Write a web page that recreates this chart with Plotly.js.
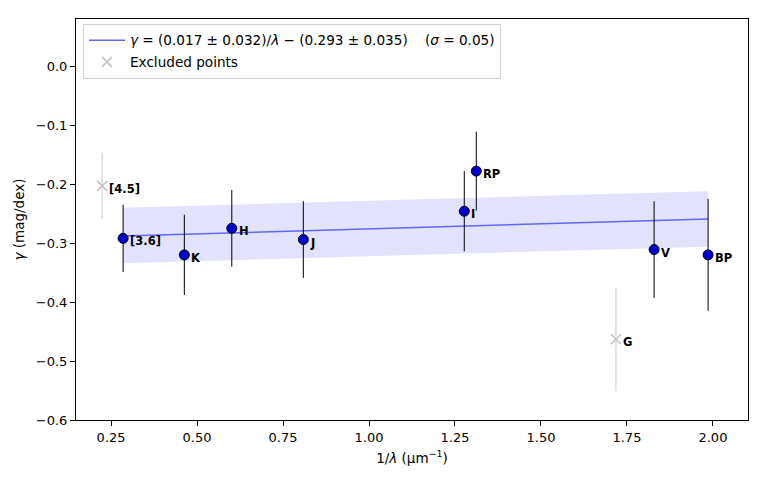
<!DOCTYPE html>
<html>
<head>
<meta charset="utf-8">
<script src="https://cdn.plot.ly/plotly-3.0.1.min.js"></script>
<style>
  html, body { margin: 0; padding: 0; background: #fff; }
  #chart { width: 763px; height: 477px; }
</style>
</head>
<body>
<div id="chart"></div>
<script>
// fitted bands (1/lambda in um^-1, gamma in mag/dex)
var bands = ['[3.6]', 'K', 'H', 'J', 'I', 'RP', 'V', 'BP'];
var invLam = [0.285, 0.463, 0.601, 0.809, 1.277, 1.312, 1.829, 1.986];
var gamma = [-0.292, -0.320, -0.275, -0.294, -0.246, -0.178, -0.311, -0.320];
var gammaErr = [0.057, 0.068, 0.065, 0.065, 0.068, 0.067, 0.082, 0.095];

// points left out of the fit
var exclBands = ['[4.5]', 'G'];
var exclInvLam = [0.224, 1.718];
var exclGamma = [-0.203, -0.463];
var exclErr = [0.056, 0.088];

// fit line and its uncertainty band
var fitX = [0.285, 1.986];
var fitY = [-0.288, -0.259];
var bandUpper = [-0.240, -0.212];
var bandLower = [-0.334, -0.306];

var font = 'DejaVu Sans, sans-serif';

var band = {
  x: fitX.concat(fitX.slice().reverse()),
  y: bandUpper.concat(bandLower.slice().reverse()),
  fill: 'toself',
  fillcolor: 'rgba(60,60,235,0.15)',
  line: {width: 0},
  mode: 'lines',
  hoverinfo: 'skip',
  showlegend: false
};

var fit = {
  x: fitX,
  y: fitY,
  mode: 'lines',
  line: {color: 'rgb(100,100,250)', width: 1.5},
  legendgroup: 'fit',
  name: '<i>γ</i>\u00a0=\u00a0(0.017\u00a0±\u00a00.032)/<i>λ</i>\u00a0−\u00a0(0.293\u00a0±\u00a00.035)\u00a0\u00a0\u00a0\u00a0(<i>σ</i>\u00a0=\u00a00.05)'
};

var pts = {
  x: invLam,
  y: gamma,
  mode: 'markers',
  error_y: {type: 'data', array: gammaErr, color: '#000', thickness: 1, width: 0},
  marker: {size: 10, color: '#0000c8', line: {color: '#000', width: 1}},
  showlegend: false
};

var excl = {
  x: exclInvLam,
  y: exclGamma,
  mode: 'markers',
  error_y: {type: 'data', array: exclErr, color: '#cccccc', thickness: 1, width: 0},
  marker: {symbol: 'x-thin', size: 10, color: '#c4c4c4', line: {color: '#c4c4c4', width: 1.6}},
  legendgroup: 'excl',
  name: 'Excluded points'
};

var ann = [];
function addLabels(names, xs, ys) {
  for (var i = 0; i < names.length; i++) {
    ann.push({
      x: xs[i], y: ys[i], xref: 'x', yref: 'y',
      text: '<b>' + names[i] + '</b>',
      showarrow: false, xanchor: 'left', yanchor: 'middle',
      xshift: 5, yshift: -3,
      font: {family: font, size: 11.5, color: '#000'}
    });
  }
}
addLabels(bands, invLam, gamma);
addLabels(exclBands, exclInvLam, exclGamma);

var axisCommon = {
  showgrid: false,
  zeroline: false,
  showline: true,
  mirror: true,
  linecolor: '#000',
  linewidth: 1,
  ticks: 'outside',
  ticklen: 5,
  tickwidth: 1,
  tickcolor: '#000',
  tickfont: {family: font, size: 13, color: '#000'}
};

var layout = {
  width: 763,
  height: 477,
  margin: {l: 76, r: 15, t: 19, b: 57},
  paper_bgcolor: '#fff',
  plot_bgcolor: '#fff',
  font: {family: font, size: 13, color: '#000'},
  xaxis: Object.assign({}, axisCommon, {
    range: [0.148, 2.102],
    tick0: 0.25, dtick: 0.25, tickformat: '.2f',
    title: {text: '1/<i>λ</i> (μm<sup>−1</sup>)', font: {family: font, size: 13.5}, standoff: 9}
  }),
  yaxis: Object.assign({}, axisCommon, {
    range: [-0.6, 0.08],
    tick0: 0, dtick: 0.1, tickformat: '.1f',
    title: {text: '<i>γ</i> (mag/dex)', font: {family: font, size: 13.5}, standoff: 8}
  }),
  legend: {
    x: 0.0104, y: 0.988, xanchor: 'left', yanchor: 'top',
    bgcolor: 'rgba(255,255,255,0.8)',
    bordercolor: '#d0d0d0', borderwidth: 1,
    font: {family: font, size: 13.6, color: '#000'},
    traceorder: 'grouped',
    tracegroupgap: 1,
    itemwidth: 36
  },
  annotations: ann
};

Plotly.newPlot('chart', [band, fit, pts, excl], layout, {displayModeBar: false, staticPlot: true});
</script>
</body>
</html>
